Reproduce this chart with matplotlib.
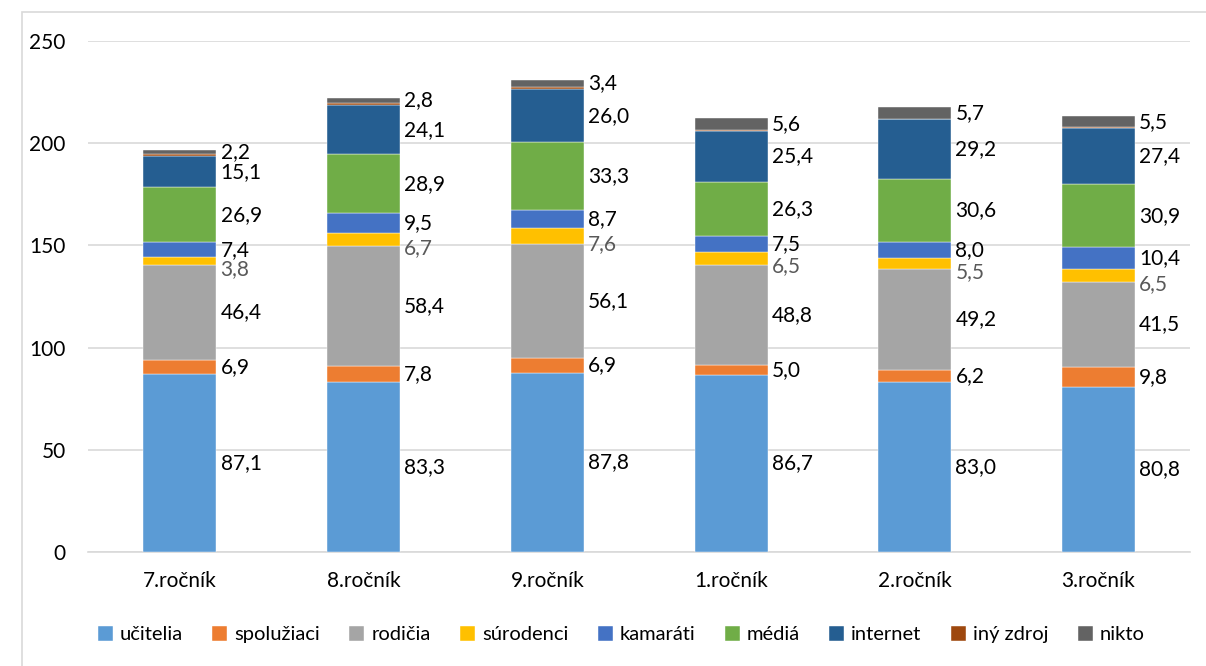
import matplotlib
matplotlib.use("Agg")
import matplotlib.pyplot as plt
from matplotlib.patches import Rectangle
import numpy as np

categories = ["7.ročník", "8.ročník", "9.ročník", "1.ročník", "2.ročník", "3.ročník"]
series_names = ["učitelia", "spolužiaci", "rodičia", "súrodenci", "kamaráti",
                "médiá", "internet", "iný zdroj", "nikto"]
ucitelia = [87.1, 83.3, 87.8, 86.7, 83.0, 80.8]
spoluziaci = [6.9, 7.8, 6.9, 5.0, 6.2, 9.8]
rodicia = [46.4, 58.4, 56.1, 48.8, 49.2, 41.5]
surodenci = [3.8, 6.7, 7.6, 6.5, 5.5, 6.5]
kamarati = [7.4, 9.5, 8.7, 7.5, 8.0, 10.4]
media = [26.9, 28.9, 33.3, 26.3, 30.6, 30.9]
internet = [15.1, 24.1, 26.0, 25.4, 29.2, 27.4]
iny_zdroj = [0.9, 0.8, 1.1, 0.4, 0.3, 0.5]
nikto = [2.2, 2.8, 3.4, 5.6, 5.7, 5.5]

series = [ucitelia, spoluziaci, rodicia, surodenci, kamarati, media, internet, iny_zdroj, nikto]
colors = ["#5B9BD5", "#ED7D31", "#A5A5A5", "#FFC000", "#4472C4",
          "#70AD47", "#255E91", "#9E480E", "#636363"]
labeled = [True, True, True, True, True, True, True, False, True]

plt.rcParams['font.family'] = ['Lato', 'DejaVu Sans']

fig = plt.figure(figsize=(12.06, 6.66), dpi=100)
ax = fig.add_axes([0.073, 0.1712, 0.914, 0.7672])

# chart border
fig.patches.append(Rectangle((22/1206, -0.01), 1.0, 1 - 12/666 + 0.01,
                             transform=fig.transFigure, fill=False,
                             edgecolor="#D9D9D9", linewidth=1.2, zorder=0))

x = np.arange(len(categories))
width = 0.397
bottom = np.zeros(len(categories))
for name, vals, col, lab in zip(series_names, series, colors, labeled):
    vals = np.array(vals)
    ax.bar(x, vals, width, bottom=bottom, color=col, label=name,
           edgecolor="white", linewidth=0.3, zorder=3)
    if lab:
        for xi, b, v in zip(x, bottom, vals):
            txt = f"{v:.1f}".replace(".", ",")
            if name == "súrodenci":
                ax.annotate(txt, (xi + width / 2, b + v / 2), xytext=(3, -6),
                            textcoords="offset points", ha="left", va="center",
                            fontsize=15, color="#595959", zorder=4)
            else:
                ax.annotate(txt, (xi + width / 2, b + v / 2), xytext=(3, 0),
                            textcoords="offset points", ha="left", va="center",
                            fontsize=15, color="black", zorder=4)
    bottom += vals

ax.set_xlim(-0.5, 5.5)
ax.set_ylim(0, 250)
ax.set_yticks([0, 50, 100, 150, 200, 250])
ax.set_xticks(x)
ax.set_xticklabels(categories)
ax.tick_params(axis="y", length=0, pad=16, labelsize=15)
ax.tick_params(axis="x", length=0, pad=14, labelsize=15)
ax.yaxis.grid(True, color="#D9D9D9", linewidth=1.2, zorder=0)
ax.set_axisbelow(True)
for s in ["top", "right", "left"]:
    ax.spines[s].set_visible(False)
ax.spines["bottom"].set_color("#D9D9D9")
ax.spines["bottom"].set_linewidth(1.2)

fig.legend(loc="center", bbox_to_anchor=(0.515, 0.047), ncol=9, frameon=False,
           fontsize=14.5, handlelength=0.75, handleheight=0.75, handletextpad=0.35,
           columnspacing=1.45)

fig.savefig("out.png", dpi=100)
